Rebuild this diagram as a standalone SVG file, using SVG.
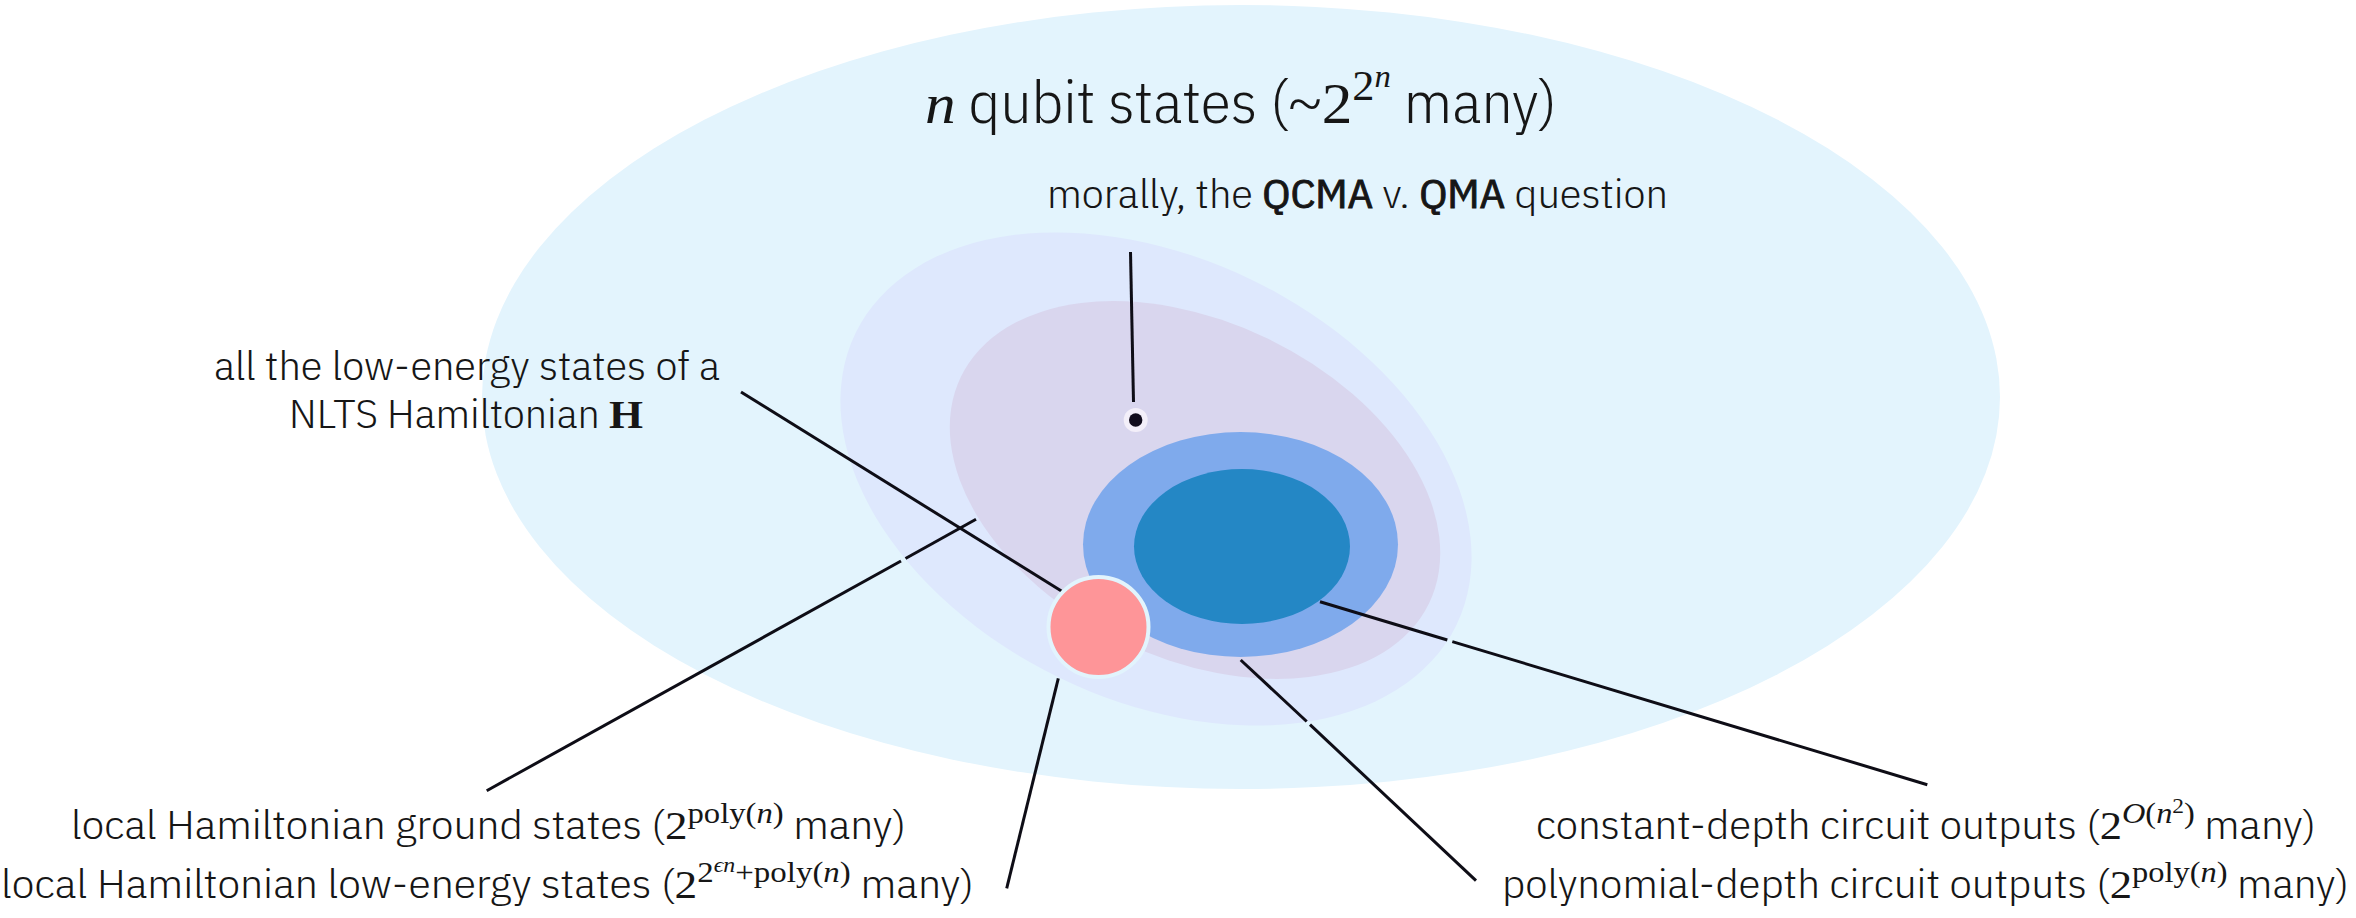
<svg xmlns="http://www.w3.org/2000/svg" width="2356" height="918" viewBox="0 0 2356 918">
<style>
.t{font-family:"IBM Plex Sans Condensed","Roboto","Liberation Sans",sans-serif;font-weight:300;fill:#161616}
.m{font-family:"Liberation Serif","DejaVu Serif",serif;font-weight:400}
.mi{font-family:"Liberation Serif","DejaVu Serif",serif;font-style:italic;font-weight:400}
.bf{font-weight:400;stroke:#161616;stroke-width:0.9}
.hb{font-weight:700}
.ln{stroke:#0e0d16;stroke-width:3;fill:none;stroke-linecap:butt}
</style>
<rect width="2356" height="918" fill="#ffffff"/>
<g id="all-states"><ellipse cx="1241" cy="397" rx="759" ry="392" fill="#e3f4fd"/></g>
<g id="low-energy-states"><ellipse cx="1156" cy="479" rx="334" ry="221" transform="rotate(25.9 1156 479)" fill="#dee8fd"/></g>
<g id="ground-states"><ellipse cx="1195" cy="490" rx="260" ry="168" transform="rotate(25.8 1195 490)" fill="#d9d6ee"/></g>
<g id="poly-depth"><ellipse cx="1240.5" cy="544.5" rx="157.5" ry="112.5" fill="#7faaec"/></g>
<g id="const-depth"><ellipse cx="1242" cy="546.5" rx="108" ry="77.5" fill="#2487c5"/></g>
<g id="connectors">
<line class="ln" x1="1130.5" y1="252" x2="1133.5" y2="402"/>
<line class="ln" x1="741" y1="392" x2="1063" y2="592"/>
<line class="ln" x1="486.7" y1="790.7" x2="901" y2="561"/>
<line class="ln" x1="905.5" y1="558.5" x2="976" y2="519.3"/>
<line class="ln" x1="1058.3" y1="678.3" x2="1006.7" y2="888.3"/>
<line class="ln" x1="1240.7" y1="660" x2="1306.7" y2="721.5"/>
<line class="ln" x1="1310" y1="724.6" x2="1476" y2="880.7"/>
<line class="ln" x1="1320" y1="601.7" x2="1447.3" y2="640"/>
<line class="ln" x1="1452.3" y1="641.6" x2="1927.3" y2="784.7"/>
</g>
<g id="nlts-states"><circle cx="1098.5" cy="627" r="50" fill="#fe9598" stroke="#e2f4fd" stroke-width="4"/></g>
<g id="qcma-point"><circle cx="1135.7" cy="420" r="12" fill="#f3eff9"/><circle cx="1135.7" cy="420" r="6.7" fill="#110c1c"/></g>
<g id="labels">
<text class="t" x="925" y="123" font-size="58" textLength="632" lengthAdjust="spacingAndGlyphs"><tspan class="mi">n</tspan> qubit states (<tspan class="m">~2</tspan><tspan class="m" font-size="42" dy="-23">2</tspan><tspan class="mi" font-size="31" dy="-13">n</tspan><tspan dy="36"> many)</tspan></text>
<text class="t" x="1047" y="208" font-size="40" textLength="621" lengthAdjust="spacingAndGlyphs">morally, the <tspan class="bf">QCMA</tspan> v. <tspan class="bf">QMA</tspan> question</text>
<text class="t" x="214" y="380" font-size="40" textLength="506" lengthAdjust="spacingAndGlyphs">all the low-energy states of a</text>
<text class="t" x="289" y="428" font-size="40" textLength="354" lengthAdjust="spacingAndGlyphs">NLTS Hamiltonian <tspan class="m hb">H</tspan></text>
<text class="t" x="71" y="839" font-size="40" textLength="835" lengthAdjust="spacingAndGlyphs">local Hamiltonian ground states (<tspan class="m">2</tspan><tspan class="m" font-size="29" dy="-16">poly(</tspan><tspan class="mi" font-size="29">n</tspan><tspan class="m" font-size="29">)</tspan><tspan dy="16"> many)</tspan></text>
<text class="t" x="1" y="898" font-size="40" textLength="973" lengthAdjust="spacingAndGlyphs">local Hamiltonian low-energy states (<tspan class="m">2</tspan><tspan class="m" font-size="29" dy="-16">2</tspan><tspan class="mi" font-size="21" dy="-10">ϵn</tspan><tspan class="m" font-size="29" dy="10">+poly(</tspan><tspan class="mi" font-size="29">n</tspan><tspan class="m" font-size="29">)</tspan><tspan dy="16"> many)</tspan></text>
<text class="t" x="1536" y="839" font-size="40" textLength="780" lengthAdjust="spacingAndGlyphs">constant-depth circuit outputs (<tspan class="m">2</tspan><tspan class="mi" font-size="29" dy="-16">O</tspan><tspan class="m" font-size="29">(</tspan><tspan class="mi" font-size="29">n</tspan><tspan class="m" font-size="21" dy="-10">2</tspan><tspan class="m" font-size="29" dy="10">)</tspan><tspan dy="16"> many)</tspan></text>
<text class="t" x="1502" y="898" font-size="40" textLength="847" lengthAdjust="spacingAndGlyphs">polynomial-depth circuit outputs (<tspan class="m">2</tspan><tspan class="m" font-size="29" dy="-16">poly(</tspan><tspan class="mi" font-size="29">n</tspan><tspan class="m" font-size="29">)</tspan><tspan dy="16"> many)</tspan></text>
</g>
</svg>
